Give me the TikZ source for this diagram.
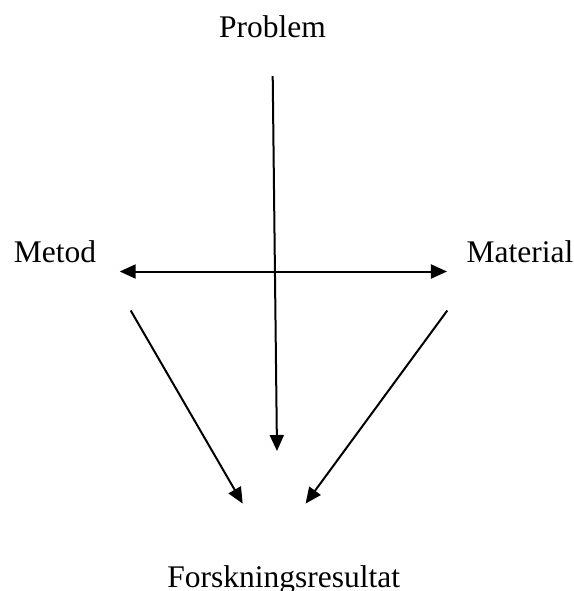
\documentclass[tikz,border=0pt]{standalone}
\usepackage{fontspec}
\setmainfont{Liberation Serif}
\usetikzlibrary{arrows.meta}
\tikzset{
  word/.style={
    inner sep=0pt,
    anchor=base,
    font=\fontsize{15.75}{19}\selectfont
  },
  arrow/.style={
    -{Triangle[length=8pt,width=7pt]},
    line width=1pt,
    draw=black
  },
  twoway/.style={
    arrow,
    {Triangle[length=8pt,width=7pt]}-{Triangle[length=8pt,width=7pt]}
  }
}

\begin{document}
\begin{tikzpicture}[x=0.5pt,y=-0.5pt]
  \useasboundingbox (0,0) rectangle (574,591);

  \node[word] (problem) at (272.5,37.5) {Problem};
  \node[word] (metod) at (55,262) {Metod};
  \node[word] (material) at (520,262.5) {Material};
  \node[word] (result) at (283.7,587) {Forskningsresultat};

  % free ends of the connectors
  \coordinate (probtop) at (272.7,76);
  \coordinate (probtip) at (277,451);
  \coordinate (metodtip) at (119.7,271.5);
  \coordinate (mattip) at (447,271.5);
  \coordinate (metodfoot) at (130.7,310.5);
  \coordinate (matfoot) at (447.3,310.5);
  \coordinate (lefttip) at (242.7,503.6);
  \coordinate (righttip) at (305.6,503.6);

  \draw[arrow] (probtop) -- (probtip);
  \draw[twoway] (metodtip) -- (mattip);
  \draw[arrow] (metodfoot) -- (lefttip);
  \draw[arrow] (matfoot) -- (righttip);
\end{tikzpicture}
\end{document}
